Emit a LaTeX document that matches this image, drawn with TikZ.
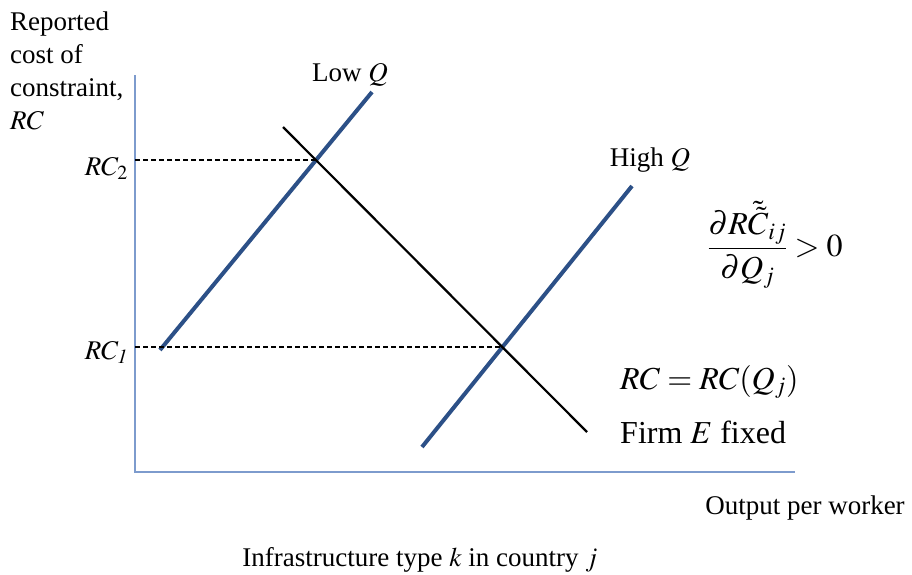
\documentclass[tikz,border=0pt]{standalone}
\usepackage{mathptmx}
\usepackage[no-math]{fontspec}
\setmainfont{Liberation Serif}
\definecolor{axisblue}{RGB}{125,155,205}
\definecolor{curveblue}{RGB}{44,80,135}
\begin{document}
\begin{tikzpicture}[x=1pt,y=-1pt,
        lbl/.style={font=\fontsize{27}{33}\selectfont,inner sep=0pt},
        big/.style={font=\fontsize{32}{40}\selectfont,inner sep=0pt},
        curve/.style={line width=4pt,color=curveblue},
        guide/.style={dashed,line width=1.3pt,dash pattern=on 5pt off 3pt}]
\useasboundingbox (0,0) rectangle (912,574);
% axes
\coordinate (top) at (135,75);
\coordinate (origin) at (135,472);
\coordinate (right) at (795,472);
\draw[axisblue,line width=1.2pt] (top) -- (origin) -- (right);

% lines
\coordinate (low1) at (160,350);
\coordinate (low2) at (372,92);
\coordinate (high1) at (422,447);
\coordinate (high2) at (632,186);
\coordinate (fix1) at (283,127);
\coordinate (fix2) at (587,432);
\draw[curve] (low1) -- (low2);
\draw[curve] (high1) -- (high2);
\draw[line width=2.2pt] (fix1) -- (fix2);

\coordinate (cross2) at (intersection of low1--low2 and fix1--fix2);
\coordinate (cross1) at (intersection of high1--high2 and fix1--fix2);
\draw[guide] (origin |- cross2) -- (cross2);
\draw[guide] (origin |- cross1) -- (cross1);

% labels
\node[lbl,anchor=east] (rc2) at (128,168) {$RC_2$};
\node[lbl,anchor=east] (rc1) at (128,352) {$RC_{\mathit{1}}$};
\node[lbl,anchor=north west,align=left] (ylab) at (10,12)
    {Reported\\cost of\\constraint,\\$RC$};
\node[lbl] (lowq) at (350,75) {Low $Q$};
\node[lbl] (highq) at (650,160) {High $Q$};
\node[lbl] (xlab) at (805,508) {Output per worker};
\node[lbl] (caption) at (420,560) {Infrastructure type $k$ in country $j$};
\node[big] (deriv) at (775,245)
    {$\displaystyle\frac{\partial R\tilde{\tilde{C}}_{ij}}{\partial Q_j}>0$};
\node[big,anchor=west] (rcq) at (620,382) {$RC=RC(Q_j)$};
\node[big,anchor=west] (firm) at (620,432) {Firm $E$ fixed};
\end{tikzpicture}
\end{document}
